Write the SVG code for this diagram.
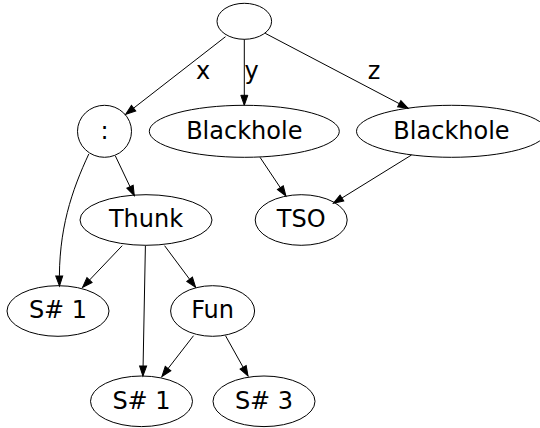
<svg xmlns="http://www.w3.org/2000/svg" width="540" height="428" viewBox="0 0 540 428">
<style>
.node ellipse{fill:none;stroke:#000;stroke-width:1}
text{font-family:"DejaVu Sans",sans-serif;font-size:24px;fill:#000;text-anchor:middle}
.edges path{fill:none;stroke:#000;stroke-width:1;marker-end:url(#ah)}
</style>
<defs>
<marker id="ah" markerUnits="userSpaceOnUse" markerWidth="14" markerHeight="10" viewBox="-1 -5 13 10" refX="10" refY="0" orient="auto">
<path d="M0,-3.5 L10,0 L0,3.5 z" fill="#000" stroke="#000" stroke-width="1"/>
</marker>
</defs>
<rect width="540" height="428" fill="#fff"/>
<g class="edges" id="edges">
<path d="M225.5,36.7 L125.7,114.3"/>
<path d="M244.3,39.3 L244.3,105.3"/>
<path d="M265.2,33.3 L408.1,108.3"/>
<path d="M260,157.3 L285.9,196"/>
<path d="M411.5,155 L333.4,203.3"/>
<path d="M115.4,156 L134.3,195.7"/>
<path d="M88.8,154 C72,190 58,230 59.5,286"/>
<path d="M122.2,245.7 L82.6,287.3"/>
<path d="M145.4,246 L142.9,376"/>
<path d="M164.6,245.7 L195.6,287.3"/>
<path d="M193.5,335.7 L161.9,376.5"/>
<path d="M225.5,335.7 L248,376"/>
<text x="203" y="79">x</text>
<text x="251.5" y="79">y</text>
<text x="374" y="79">z</text>
</g>
<g class="node" id="root"><ellipse cx="244.3" cy="21.3" rx="27.3" ry="18"/></g>
<g class="node" id="cons"><ellipse cx="104.5" cy="131.3" rx="27" ry="26"/><text x="104.5" y="138.6">:</text></g>
<g class="node" id="bh1"><ellipse cx="244.3" cy="131.3" rx="95" ry="26"/><text x="244.3" y="138.6">Blackhole</text></g>
<g class="node" id="bh2"><ellipse cx="451.5" cy="131.3" rx="95" ry="26"/><text x="451.5" y="138.6">Blackhole</text></g>
<g class="node" id="thunk"><ellipse cx="146" cy="220" rx="66" ry="25.3"/><text x="146" y="227.3">Thunk</text></g>
<g class="node" id="tso"><ellipse cx="301.2" cy="220" rx="46" ry="25.3"/><text x="301.2" y="227.3">TSO</text></g>
<g class="node" id="s1a"><ellipse cx="58" cy="311" rx="51" ry="25.3"/><text x="58" y="318.3">S# 1</text></g>
<g class="node" id="fun"><ellipse cx="212.6" cy="311" rx="42" ry="25.3"/><text x="212.6" y="318.3">Fun</text></g>
<g class="node" id="s1b"><ellipse cx="141.5" cy="401.3" rx="51" ry="25.3"/><text x="141.5" y="408.6">S# 1</text></g>
<g class="node" id="s3"><ellipse cx="264" cy="401.3" rx="51" ry="25.3"/><text x="264" y="408.6">S# 3</text></g>
</svg>
